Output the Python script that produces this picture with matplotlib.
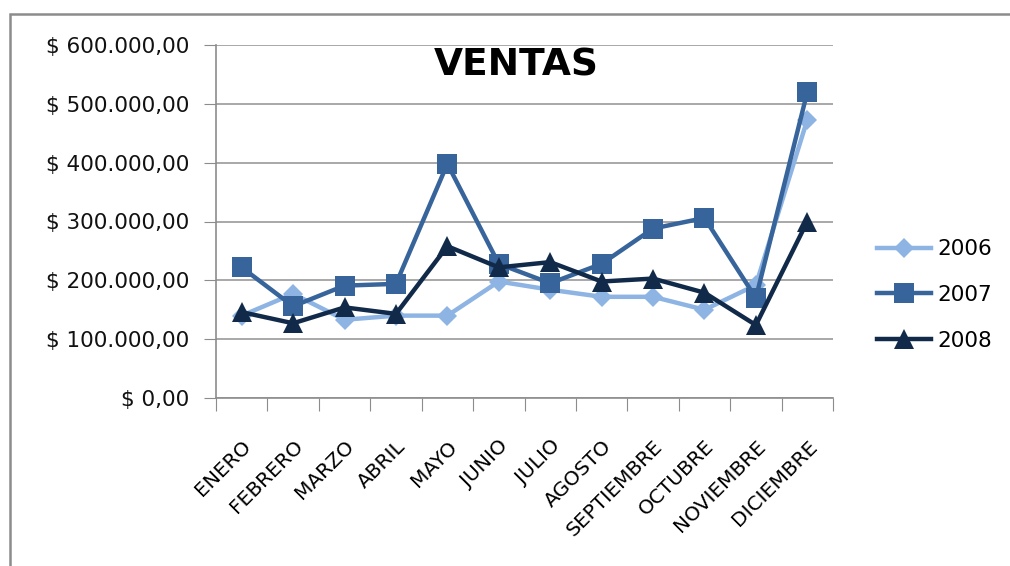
import matplotlib.pyplot as plt
import matplotlib.ticker as tck
import matplotlib.patches as mpatches
import numpy as np

months = ['ENERO', 'FEBRERO', 'MARZO', 'ABRIL', 'MAYO', 'JUNIO', 'JULIO',
          'AGOSTO', 'SEPTIEMBRE', 'OCTUBRE', 'NOVIEMBRE', 'DICIEMBRE']

ventas_2006 = [140000, 177000, 133000, 140000, 140000, 198000, 184000,
               172000, 172000, 150000, 192000, 473000]
ventas_2007 = [222000, 156000, 191000, 194000, 398000, 228000, 195000,
               228000, 288000, 306000, 170000, 520000]
ventas_2008 = [146000, 127000, 154000, 143000, 258000, 222000, 231000,
               198000, 203000, 179000, 124000, 300000]

years = ['2006', '2007', '2008']
colors = ['#8DB4E3', '#37649B', '#122A4A']
markers = ['D', 's', '^']
msizes = [10, 14, 14]

plt.rcParams['font.family'] = ['DejaVu Sans']

fig = plt.figure(figsize=(10.1, 5.66), dpi=100)
ax = fig.add_axes([216/1010, 1-398/566, (833-216)/1010, (398-45)/566])

# chart border (only top and left edges are visible)
fig.patches.append(mpatches.Rectangle((10/1010, -0.1), 1.2, (566-14)/566 + 0.1,
                                      transform=fig.transFigure, fill=False,
                                      edgecolor='#8C8C8C', linewidth=1.8))

x = np.arange(len(months))
for data, lbl, c, m, ms in zip([ventas_2006, ventas_2007, ventas_2008],
                                years, colors, markers, msizes):
    ax.plot(x, data, color=c, marker=m, markersize=ms, linewidth=3.2,
            label=lbl, markeredgewidth=0)

ax.set_xlim(-0.5, len(months) - 0.5)
ax.set_ylim(0, 600000)
ax.set_yticks(np.arange(0, 600001, 100000))

def peso(v, pos):
    s = f"{v:,.2f}".replace(',', 'X').replace('.', ',').replace('X', '.')
    return '$ ' + s

ax.yaxis.set_major_formatter(tck.FuncFormatter(peso))
ax.tick_params(axis='y', labelsize=15.5, length=9, color='#8C8C8C', pad=10,
               labelcolor='#111111')

# tick marks between categories, labels at category centres
ax.set_xticks(np.arange(-0.5, len(months)), minor=False)
ax.set_xticklabels([])
ax.set_xticks(x, minor=True)
ax.set_xticklabels(months, minor=True, rotation=45, ha='right',
                   rotation_mode='anchor', fontsize=14.5)
ax.tick_params(axis='x', which='major', length=9, color='#8C8C8C')
ax.tick_params(axis='x', which='minor', length=0, pad=28)

ax.grid(axis='y', color='#999999', linewidth=1.2)
ax.set_axisbelow(True)
for side in ['top', 'right']:
    ax.spines[side].set_visible(False)
for side in ['left', 'bottom']:
    ax.spines[side].set_color('#8C8C8C')
    ax.spines[side].set_linewidth(1.2)

fig.text(516/1010, 1-65/566, 'VENTAS', ha='center', va='center',
         fontsize=27, fontweight='bold', color='black')

leg = ax.legend(loc='center left', bbox_to_anchor=(858/1010, 1-295/566),
                bbox_transform=fig.transFigure, frameon=False, fontsize=15.5,
                handlelength=2.5, handletextpad=0.3, labelspacing=1.2)

fig.savefig('out.png', dpi=100)
